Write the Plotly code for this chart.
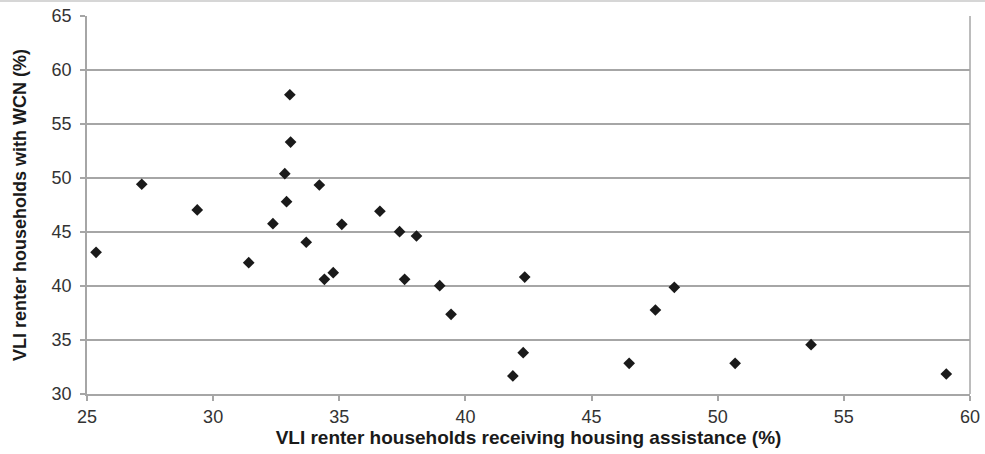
import plotly.graph_objects as go

assistance_pct = [25.36, 27.17, 29.37, 31.41, 32.37, 32.84, 32.91, 33.04, 33.07, 33.69,
                  34.21, 34.41, 34.76, 35.10, 36.61, 37.39, 37.59, 38.06, 38.98, 39.43,
                  42.35, 42.29, 41.88, 46.49, 47.53, 48.28, 50.69, 53.70, 59.06]
wcn_pct = [43.12, 49.42, 47.04, 42.16, 45.77, 50.40, 47.81, 57.71, 53.33, 44.05,
           49.35, 40.62, 41.23, 45.71, 46.92, 45.03, 40.62, 44.63, 40.03, 37.38,
           40.83, 33.83, 31.67, 32.84, 37.78, 39.88, 32.84, 34.57, 31.85]

x_ticks = [25, 30, 35, 40, 45, 50, 55, 60]
y_ticks = [30, 35, 40, 45, 50, 55, 60, 65]

x_title = "VLI renter households receiving housing assistance (%)"
y_title = "VLI renter households with WCN (%)"

font_family = "Liberation Sans, Arial, sans-serif"

fig = go.Figure()
fig.add_trace(go.Scatter(
    x=assistance_pct, y=wcn_pct, mode="markers",
    marker=dict(symbol="diamond", size=9, color="#1a1a1a", line=dict(width=0)),
    showlegend=False, hoverinfo="x+y",
))

fig.update_layout(
    width=985, height=454,
    margin=dict(l=87, r=15, t=16, b=60),
    paper_bgcolor="white", plot_bgcolor="white",
    font=dict(family=font_family, color="#333333", size=18),
    xaxis=dict(
        range=[25, 60], tickvals=x_ticks, ticktext=[str(v) for v in x_ticks],
        showgrid=False, zeroline=False, automargin=False,
        showline=True, linecolor="#a6a6a6", linewidth=1.5, mirror=False,
        ticks="outside", ticklen=5, tickcolor="#a6a6a6", tickwidth=1.5,
        ticklabelstandoff=1,
        tickfont=dict(size=18, color="#333333"),
        title=dict(text="<b>" + x_title + "</b>", font=dict(size=19, color="#1a1a1a"), standoff=4),
        fixedrange=True,
    ),
    yaxis=dict(
        range=[30, 65], tickvals=y_ticks, ticktext=[str(v) for v in y_ticks],
        showgrid=True, gridcolor="#a6a6a6", gridwidth=1.5, zeroline=False, automargin=False,
        showline=True, linecolor="#a6a6a6", linewidth=1.5,
        ticks="outside", ticklen=5, tickcolor="#a6a6a6", tickwidth=1.5,
        ticklabelstandoff=5,
        tickfont=dict(size=18, color="#333333"),
        title=dict(text="<b>" + y_title + "</b>", font=dict(size=18, color="#1a1a1a"), standoff=20),
        fixedrange=True,
    ),
    shapes=[
        dict(type="line", xref="x domain", yref="y domain", x0=1, x1=1, y0=0, y1=1,
             line=dict(color="#a6a6a6", width=1.5)),
        dict(type="line", xref="paper", yref="paper", x0=-0.2, x1=1.2, y0=1.0397, y1=1.0397,
             line=dict(color="#c8c8c8", width=1.5)),
    ],
)

fig.write_html("out.html", config={"displayModeBar": False},
               post_script="document.body.style.margin='0px';")
